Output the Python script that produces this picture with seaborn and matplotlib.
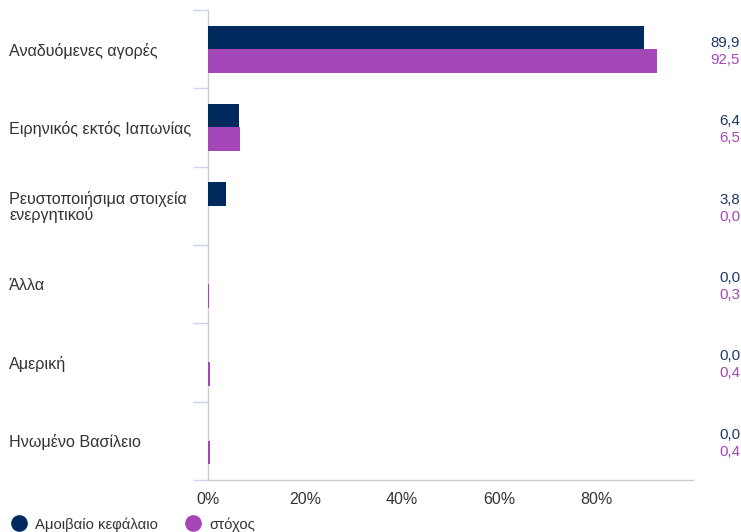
import numpy as np
import pandas as pd
import matplotlib
matplotlib.use('Agg')
import matplotlib.pyplot as plt
import matplotlib.transforms as mtransforms
from matplotlib.lines import Line2D
import seaborn as sns

categories = ['Αναδυόμενες αγορές', 'Ειρηνικός εκτός Ιαπωνίας',
              'Ρευστοποιήσιμα στοιχεία\nενεργητικού', 'Άλλα', 'Αμερική',
              'Ηνωμένο Βασίλειο']
series_names = ['Αμοιβαίο κεφάλαιο', 'στόχος']
fund_values = [89.9, 6.4, 3.8, 0.0, 0.0, 0.0]
target_values = [92.5, 6.5, 0.0, 0.3, 0.4, 0.4]
x_ticks = [0, 20, 40, 60, 80]

DARK = '#00295e'
PURPLE = '#a546b8'
LABEL_DARK = '#1d3867'

sns.set_style('white')
plt.rcParams['font.family'] = ['Liberation Sans', 'DejaVu Sans']

df = pd.DataFrame({
    'category': categories * 2,
    'series': [series_names[0]] * len(categories) + [series_names[1]] * len(categories),
    'value': fund_values + target_values,
})

fig = plt.figure(figsize=(7.41, 5.32), dpi=100)
ax = fig.add_axes([208 / 741, 1 - 480 / 532, 485 / 741, 470 / 532])

sns.barplot(data=df, y='category', x='value', hue='series', orient='h',
            palette=[DARK, PURPLE], width=0.6, gap=0, dodge=True,
            saturation=1, legend=False, linewidth=0, ax=ax)
# bars drawn above the axis line, like the tiny 0.3 / 0.4 slivers in the original
for bar in ax.patches:
    bar.set_zorder(3)

ax.set_xlim(0, 100)
ax.set_ylim(len(categories) - 0.5, -0.5)
ax.set_xticks(x_ticks)
ax.set_xticklabels([f'{t}%' for t in x_ticks], fontsize=11.5, color='#333333')
ax.set_xlabel('')
ax.set_ylabel('')

# category labels left-aligned at the figure edge
ax.tick_params(axis='y', which='major', length=0, pad=143)
for lab in ax.get_yticklabels():
    lab.set_ha('left')
    lab.set_fontsize(11.6)
    lab.set_color('#333333')
    lab.set_linespacing(1.0)

# boundary ticks between categories
ax.set_yticks(np.arange(-0.5, len(categories), 1), minor=True)
ax.tick_params(axis='y', which='minor', left=True, length=11,
               color='#ccd6eb', width=1)
ax.tick_params(axis='x', length=0, pad=9)

for side in ['top', 'right']:
    ax.spines[side].set_visible(False)
for side in ['left', 'bottom']:
    ax.spines[side].set_color('#cccccc')
    ax.spines[side].set_linewidth(1)

# value labels on the right edge
trans = mtransforms.blended_transform_factory(fig.transFigure, ax.transData)
for i in range(len(categories)):
    ax.text(740 / 741, i - 0.08, f'{fund_values[i]:.1f}'.replace('.', ','),
            transform=trans, ha='right', va='center', fontsize=10.8,
            color=LABEL_DARK, clip_on=False)
    ax.text(740 / 741, i + 0.14, f'{target_values[i]:.1f}'.replace('.', ','),
            transform=trans, ha='right', va='center', fontsize=10.8,
            color=PURPLE, clip_on=False)

handles = [Line2D([], [], marker='o', linestyle='', markersize=11,
                  markerfacecolor=c, markeredgecolor=c)
           for c in [DARK, PURPLE]]
fig.legend(handles, series_names, loc='lower left', bbox_to_anchor=(0.004, -0.016),
           ncol=2, frameon=False, fontsize=10.7, handletextpad=0.55,
           handlelength=1.0, columnspacing=1.9, borderaxespad=0.2,
           labelcolor='#333333')

fig.savefig('out.png', dpi=100)
plt.close(fig)
